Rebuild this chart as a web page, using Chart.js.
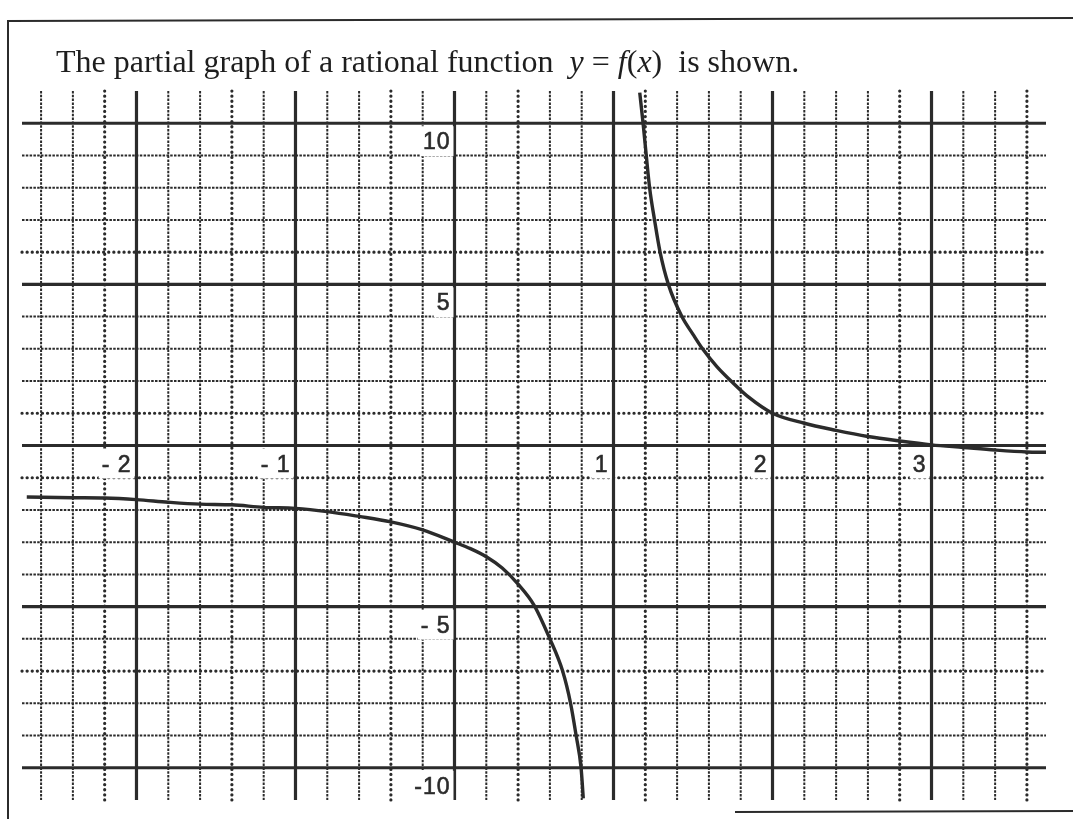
<!DOCTYPE html>
<html>
<head>
<meta charset="utf-8">
<title>Rational function</title>
<script src="https://cdn.jsdelivr.net/npm/chart.js@4.4.1/dist/chart.umd.min.js"></script>
<style>
    html, body { margin: 0; padding: 0; background: #fff; }
    #wrap { position: relative; width: 1073px; height: 819px; }
</style>
</head>
<body>
<div id="wrap"><canvas id="chart" width="1073" height="819"></canvas></div>
<script>
// branch to the left of the vertical asymptote
const leftX = [-2.69, -2.4, -2.2, -2.0, -1.8, -1.6, -1.4, -1.2, -1.0, -0.8, -0.6, -0.4, -0.2, 0, 0.1, 0.2, 0.3, 0.4, 0.5, 0.6, 0.68, 0.73, 0.765, 0.796, 0.81]
const leftY = [-1.6, -1.62, -1.63, -1.68, -1.76, -1.82, -1.84, -1.92, -1.95, -2.05, -2.2, -2.37, -2.62, -3.0, -3.2, -3.45, -3.8, -4.3, -4.95, -6.0, -7.0, -8.0, -9.0, -10.0, -10.95]
// branch to the right of it
const rightX = [1.165, 1.186, 1.206, 1.227, 1.258, 1.293, 1.345, 1.43, 1.5, 1.56, 1.65, 1.75, 1.85, 2.0, 2.2, 2.4, 2.6, 2.8, 3.0, 3.2, 3.4, 3.6, 3.72]
const rightY = [10.95, 10, 9, 8, 7, 6, 5, 4.0, 3.45, 3.0, 2.45, 1.95, 1.5, 1.0, 0.69, 0.47, 0.28, 0.14, 0.02, -0.06, -0.14, -0.2, -0.21]

// numbers printed on the axes
const xLabelValues = [-2, -1, 1, 2, 3]
const xLabelTexts = ['- 2', '- 1', '1', '2', '3']
const yLabelValues = [10, 5, -5, -10]
const yLabelTexts = ['10', '5', '- 5', '-10']

const ink = '#2b2b2b'

// graph paper: dotted fifths, heavier dotted rows/columns, solid unit lines
const paperGrid = {
    id: 'paperGrid',
    beforeDatasetsDraw(chart) {
        const { ctx, chartArea, scales: { x, y } } = chart
        const top = chartArea.top
        const bottom = chartArea.bottom
        const left = chartArea.left
        const right = chartArea.right
        const heavyCols = [-11, -7, -2, 2, 6, 14, 18]
        const heavyRows = [6, 1, -1, -7]

        ctx.save()
        ctx.strokeStyle = ink

        const vLine = (i) => {
            const px = x.getPixelForValue(i / 5)
            ctx.beginPath()
            ctx.moveTo(px, top)
            ctx.lineTo(px, bottom)
            ctx.stroke()
        }
        const hLine = (j) => {
            const py = y.getPixelForValue(j)
            ctx.beginPath()
            ctx.moveTo(left, py)
            ctx.lineTo(right, py)
            ctx.stroke()
        }

        // light dotted lines
        ctx.lineWidth = 2
        ctx.setLineDash([2.5, 1.3])
        for (let i = -13; i <= 18; i++) {
            if (i % 5 !== 0 && !heavyCols.includes(i)) vLine(i)
        }
        for (let j = -10; j <= 10; j++) {
            if (j % 5 !== 0 && !heavyRows.includes(j)) hLine(j)
        }

        // heavier dotted lines
        ctx.lineWidth = 3.2
        ctx.lineCap = 'round'
        ctx.setLineDash([0.1, 5])
        heavyCols.forEach(vLine)
        heavyRows.forEach(hLine)

        // solid lines
        ctx.lineCap = 'butt'
        ctx.setLineDash([])
        ctx.lineWidth = 3.2
        for (let i = -10; i <= 15; i += 5) vLine(i)
        for (let j = -10; j <= 10; j += 5) hLine(j)

        // axis numbers on white patches
        ctx.font = '23px "Liberation Sans", Arial, sans-serif'
        ctx.letterSpacing = '1px'
        ctx.textAlign = 'right'
        ctx.textBaseline = 'alphabetic'
        ctx.lineWidth = 0.6
        const zeroX = x.getPixelForValue(0)
        const zeroY = y.getPixelForValue(0)
        const label = (text, rightEdge, lineY) => {
            const w = ctx.measureText(text).width
            ctx.fillStyle = '#fff'
            ctx.fillRect(rightEdge - w - 4, lineY + 3, w + 6, 30)
            ctx.fillStyle = ink
            ctx.fillText(text, rightEdge - 1, lineY + 26)
            ctx.strokeText(text, rightEdge - 1, lineY + 26)
        }
        yLabelValues.forEach((v, k) => label(yLabelTexts[k], zeroX - 3, y.getPixelForValue(v)))
        xLabelValues.forEach((v, k) => label(xLabelTexts[k], x.getPixelForValue(v) - 4, zeroY))
        ctx.restore()
    },
    afterDraw(chart) {
        const { ctx } = chart
        ctx.save()
        // box around the exercise
        ctx.strokeStyle = ink
        ctx.lineWidth = 2
        ctx.beginPath()
        ctx.moveTo(8, 819)
        ctx.lineTo(8, 21)
        ctx.lineTo(1073, 18)
        ctx.stroke()
        ctx.beginPath()
        ctx.moveTo(735, 812)
        ctx.lineTo(1073, 811)
        ctx.stroke()

        // statement line, function name in italics
        const parts = [
            ['The partial graph of a rational function  ', ''],
            ['y', 'italic '],
            [' = ', ''],
            ['f', 'italic '],
            ['(', ''],
            ['x', 'italic '],
            [')  is shown.', '']
        ]
        ctx.fillStyle = '#1e1e1e'
        ctx.textAlign = 'left'
        let cx = 56
        parts.forEach(([text, style]) => {
            ctx.font = style + '32px "Liberation Serif", "Times New Roman", serif'
            ctx.fillText(text, cx, 72)
            cx += ctx.measureText(text).width
        })
        ctx.restore()
    }
}

const toPoints = (xs, ys) => xs.map((v, i) => ({ x: v, y: ys[i] }))

new Chart(document.getElementById('chart'), {
    type: 'scatter',
    data: {
        datasets: [
            {
                data: toPoints(leftX, leftY),
                showLine: true,
                borderColor: ink,
                borderWidth: 3.4,
                pointRadius: 0,
                cubicInterpolationMode: 'monotone'
            },
            {
                data: toPoints(rightX, rightY),
                showLine: true,
                borderColor: ink,
                borderWidth: 3.4,
                pointRadius: 0,
                cubicInterpolationMode: 'monotone'
            }
        ]
    },
    options: {
        responsive: false,
        animation: false,
        devicePixelRatio: 1,
        layout: {
            padding: { left: 22, right: 27, top: 91, bottom: 19 }
        },
        plugins: {
            legend: { display: false },
            tooltip: { enabled: false }
        },
        scales: {
            x: { type: 'linear', min: -2.72, max: 3.72, display: false },
            y: { type: 'linear', min: -11, max: 11, display: false }
        }
    },
    plugins: [paperGrid]
})
</script>
</body>
</html>
